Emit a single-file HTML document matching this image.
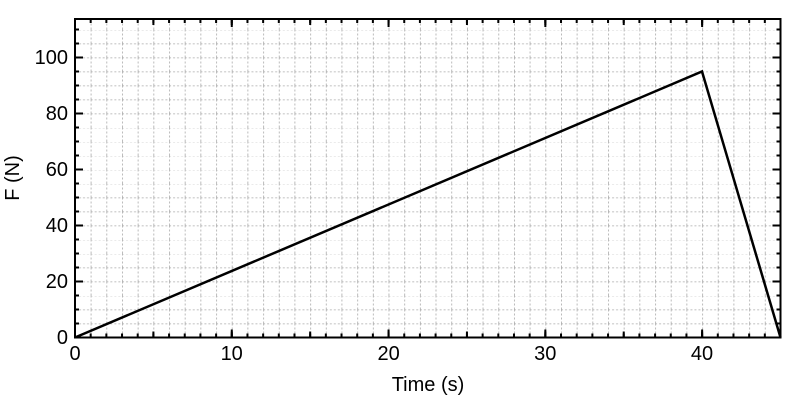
<!DOCTYPE html>
<html><head><style>body{margin:0;background:#fff}svg{display:block}text{font-family:"Liberation Sans",sans-serif;fill:#000}</style></head><body>
<svg width="800" height="400" xmlns="http://www.w3.org/2000/svg">
<defs>
<pattern id="gp" patternUnits="userSpaceOnUse" x="75" y="337.5" width="15.678" height="14">
<line x1="0.4" y1="0" x2="0.4" y2="14" stroke="#aaa" stroke-width="0.8" stroke-dasharray="2,2"/>
<line x1="0" y1="0.4" x2="15.678" y2="0.4" stroke="#aaa" stroke-width="0.8" stroke-dasharray="2,2"/>
</pattern>
</defs>
<rect x="75" y="19" width="705.5" height="318.5" fill="url(#gp)"/>
<g stroke="#000" fill="none">
<!-- bottom ticks -->
<line x1="75" y1="335.5" x2="781" y2="335.5" stroke-width="4" stroke-dasharray="2 13.678" stroke-dashoffset="1"/>
<line x1="75" y1="334.5" x2="781" y2="334.5" stroke-width="6" stroke-dasharray="2 76.39" stroke-dashoffset="1"/>
<line x1="75" y1="333.5" x2="781" y2="333.5" stroke-width="8" stroke-dasharray="2 154.78" stroke-dashoffset="1"/>
<!-- top ticks -->
<line x1="75" y1="21" x2="781" y2="21" stroke-width="4" stroke-dasharray="2 13.678" stroke-dashoffset="1"/>
<line x1="75" y1="22" x2="781" y2="22" stroke-width="6" stroke-dasharray="2 76.39" stroke-dashoffset="1"/>
<line x1="75" y1="23" x2="781" y2="23" stroke-width="8" stroke-dasharray="2 154.78" stroke-dashoffset="1"/>
<!-- left ticks -->
<line x1="77" y1="337.5" x2="77" y2="19" stroke-width="4" stroke-dasharray="2 12" stroke-dashoffset="1"/>
<line x1="79" y1="337.5" x2="79" y2="19" stroke-width="8" stroke-dasharray="2 54" stroke-dashoffset="1"/>
<!-- right ticks -->
<line x1="778.5" y1="337.5" x2="778.5" y2="19" stroke-width="4" stroke-dasharray="2 12" stroke-dashoffset="1"/>
<line x1="776.5" y1="337.5" x2="776.5" y2="19" stroke-width="8" stroke-dasharray="2 54" stroke-dashoffset="1"/>
</g>
<polyline points="75,337.5 702,71.5 780.5,337.5" fill="none" stroke="#000" stroke-width="2.5"/>
<rect x="75" y="19" width="705.5" height="318.5" fill="none" stroke="#000" stroke-width="2"/>
<g font-size="20" text-anchor="end">
<text x="68" y="344">0</text><text x="68" y="288">20</text><text x="68" y="232">40</text><text x="68" y="176">60</text><text x="68" y="120">80</text><text x="68" y="64">100</text>
</g>
<g font-size="20" text-anchor="middle">
<text x="75" y="360">0</text><text x="231.7" y="360">10</text><text x="388.6" y="360">20</text><text x="545.3" y="360">30</text><text x="702" y="360">40</text>
<text x="428" y="391">Time (s)</text>
<text transform="translate(19,178) rotate(-90)">F (N)</text>
</g>
</svg>
</body></html>
